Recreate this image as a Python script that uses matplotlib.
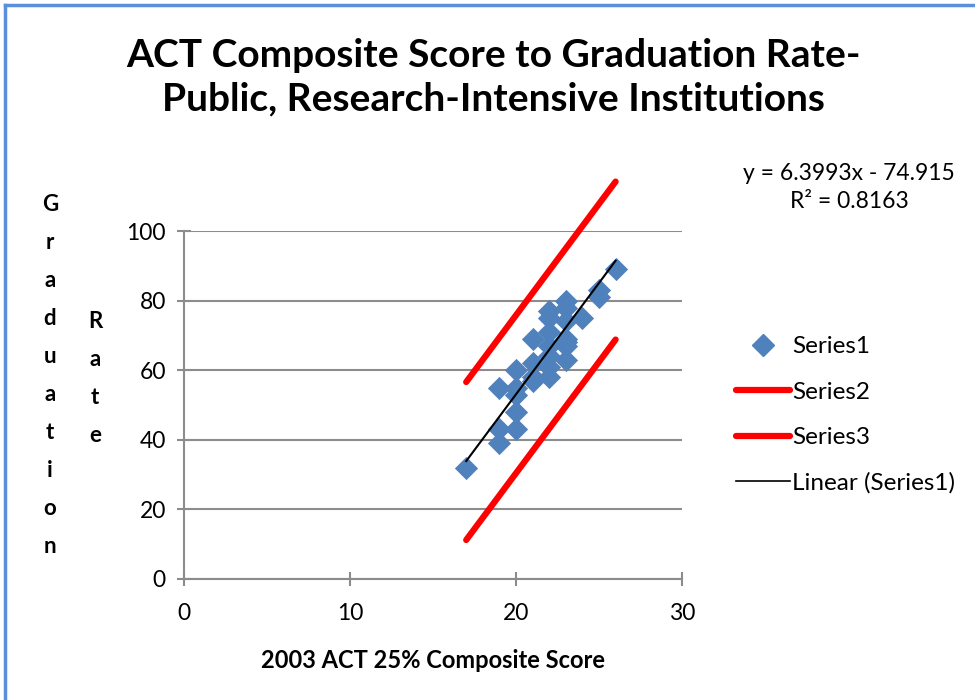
import matplotlib.pyplot as plt
from matplotlib.lines import Line2D

plt.rcParams['font.family'] = ['Lato', 'DejaVu Sans']

# ACT 25% composite score vs graduation rate
act = [17, 19, 19, 19, 20, 20, 20, 20, 20, 21, 21, 21, 21,
       22, 22, 22, 22, 22, 22, 22, 23, 23, 23, 23, 23, 23, 23,
       24, 25, 25, 26]
grad = [32, 55, 43, 39, 60, 55, 53, 48, 43, 69, 62, 58, 57,
        77, 75, 71, 67, 64, 61, 58, 80, 78, 74, 69, 68, 67, 63,
        75, 83, 81, 89]

# red band lines
s2_x = [17, 26]
s2_y = [56.6, 114.2]
s3_x = [17, 26]
s3_y = [11.2, 68.8]

# trendline
slope = 6.3993
intercept = -74.915
trend_x = [17, 26]

fig = plt.figure(figsize=(9.75, 7), dpi=100)
ax = fig.add_axes([0.1887, 0.1729, 0.5108, 0.4971])

ax.scatter(act, grad, marker='D', s=140, color='#4F81BD', zorder=3, linewidths=0)
ax.plot(s2_x, s2_y, color='#FF0000', lw=4.5, solid_capstyle='round', clip_on=False, zorder=2)
ax.plot(s3_x, s3_y, color='#FF0000', lw=4.5, solid_capstyle='round', clip_on=False, zorder=2)
ax.plot(trend_x, [slope * v + intercept for v in trend_x], color='black', lw=1.5, zorder=4)

ax.set_xlim(0, 30)
ax.set_ylim(0, 100)
ax.set_xticks([0, 10, 20, 30])
ax.set_yticks([0, 20, 40, 60, 80, 100])
ax.yaxis.grid(True, color='#8C8C8C', lw=1.5)
ax.set_axisbelow(True)
for s in ['top', 'right']:
    ax.spines[s].set_visible(False)
for s in ['left', 'bottom']:
    ax.spines[s].set_color('#8C8C8C')
    ax.spines[s].set_linewidth(1.5)
ax.tick_params(axis='both', direction='inout', length=10, width=1.5, color='#8C8C8C',
               labelsize=16.5)
ax.tick_params(axis='x', pad=12)
ax.tick_params(axis='y', pad=8)

ax.set_xlabel('2003 ACT 25% Composite Score', fontsize=17, fontweight='bold', labelpad=18)

fig.text(0.506, 0.889, 'ACT Composite Score to Graduation Rate-\nPublic, Research-Intensive Institutions',
         ha='center', va='center', fontsize=28, fontweight='bold', linespacing=1.29)

fig.text(0.0513, 0.4636, '\n'.join('Graduation'), ha='center', va='center',
         fontsize=16, fontweight='bold', linespacing=2.0)
fig.text(0.0974, 0.46, '\n'.join('Rate'), ha='center', va='center',
         fontsize=16, fontweight='bold', linespacing=2.0)

fig.text(0.871, 0.732, 'y = 6.3993x - 74.915\nR² = 0.8163', ha='center', va='center',
         fontsize=16.5, linespacing=1.45)

handles = [
    Line2D([], [], marker='D', ls='none', color='#4F81BD', markersize=11),
    Line2D([], [], color='#FF0000', lw=4.5, solid_capstyle='round'),
    Line2D([], [], color='#FF0000', lw=4.5, solid_capstyle='round'),
    Line2D([], [], color='black', lw=1.2),
]
labels = ['Series1', 'Series2', 'Series3', 'Linear (Series1)']
fig.legend(handles, labels, loc='center left', bbox_to_anchor=(0.755, 0.407),
           frameon=False, fontsize=17.5, handlelength=2.2, handletextpad=0.1,
           labelspacing=1.0, borderpad=0, borderaxespad=0)

# chart frame (left and top edges visible)
fig.add_artist(Line2D([0.005, 0.005], [0, 0.993], transform=fig.transFigure,
                      color='#5B8FDB', lw=2.5))
fig.add_artist(Line2D([0.005, 1], [0.993, 0.993], transform=fig.transFigure,
                      color='#5B8FDB', lw=2.5))

fig.savefig('out.png', dpi=100)
